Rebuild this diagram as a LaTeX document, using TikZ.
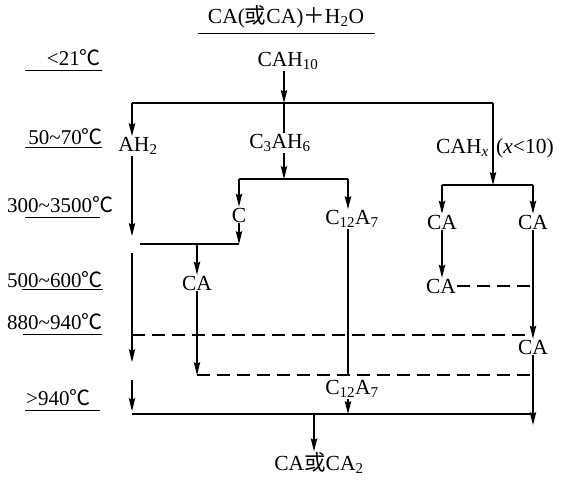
\documentclass[tikz,border=0pt]{standalone}
\usepackage{fontspec}
\setmainfont{Liberation Serif}
\newfontfamily\cjk{Noto Sans CJK SC}
\usetikzlibrary{arrows.meta}
\newcommand{\degC}{{\cjk ℃}}
\newcommand{\wave}{\textasciitilde}
\tikzset{
  lbl/.style={inner sep=1pt, font=\fontsize{21.5}{25}\selectfont},
  temp/.style={inner sep=0pt, font=\fontsize{21}{25}\selectfont},
  rule/.style={line width=0.9pt},
  flow/.style={line width=1.1pt},
  dashln/.style={line width=1.1pt, dash pattern=on 13pt off 7pt},
  >={Stealth[length=13pt,width=6.5pt,inset=2pt]},
}

\begin{document}
\begin{tikzpicture}[x=1pt, y=-1pt]
    \useasboundingbox (0,0) rectangle (561,480);
    % temperature scale
    \node[temp, anchor=east] (t21) at (101,58) {<21\degC};
    \node[temp, anchor=east] (t50) at (103,137) {50\wave70\degC};
    \node[temp, anchor=west] (t300) at (7,205) {300\wave3500\degC};
    \node[temp, anchor=west] (t500) at (7,280) {500\wave600\degC};
    \node[temp, anchor=west] (t880) at (7,322) {880\wave940\degC};
    \node[temp, anchor=west] (t940) at (26,398) {>940\degC};
    \draw[rule] (25,70) -- (102,70);
    \draw[rule] (25,147) -- (102,147);
    \draw[rule] (25,217) -- (100,217);
    \draw[rule] (22,289) -- (103,289);
    \draw[rule] (23,334) -- (102,334);
    \draw[rule] (25,410) -- (100,410);
    \node[lbl] (src) at (286,17) {CA({\cjk 或}CA){\cjk ＋}H\textsubscript{2}O};
    \draw[rule] (198,33) -- (375,33);
    % phases
    \node[lbl] (cah10) at (288,61) {CAH\textsubscript{10}};
    \node[lbl] (ah2) at (138,146) {AH\textsubscript{2}};
    \node[lbl] (c3ah6) at (280,143) {C\textsubscript{3}AH\textsubscript{6}};
    \node[lbl, anchor=east] (cahx) at (490,148) {CAH\textsubscript{\textit{x}}};
    \node[lbl, anchor=west] (xcond) at (495,148) {(\textit{x}<10)};
    \node[lbl] (cc) at (239,215) {C};
    \node[lbl] (c12a) at (352,219) {C\textsubscript{12}A\textsubscript{7}};
    \node[lbl] (caA) at (197,283) {CA};
    \node[lbl] (caB) at (442,222) {CA};
    \node[lbl] (caC) at (533,222) {CA};
    \node[lbl] (caD) at (441,286) {CA};
    \node[lbl] (caE) at (533,347) {CA};
    \node[lbl] (c12b) at (352,389) {C\textsubscript{12}A\textsubscript{7}};
    \node[lbl] (prod) at (319,463) {CA{\cjk 或}CA\textsubscript{2}};
    % junctions
    \coordinate (jL) at (132,103);
    \coordinate (jM) at (284,103);
    \coordinate (jR) at (493,103);
    \coordinate (gL) at (132,236);
    \coordinate (hL) at (132,253);
    \coordinate (kL) at (132,362);
    \coordinate (mL) at (132,380);
    \coordinate (mT) at (132,411);
    \coordinate (bL) at (132,414);
    \coordinate (bR) at (533,414);
    \coordinate (bM) at (314,414);
    \coordinate (sL) at (239,179);
    \coordinate (sM) at (284,179);
    \coordinate (sR) at (348,179);
    \coordinate (uL) at (140,244);
    \coordinate (uR) at (239,244);
    \coordinate (uM) at (197,244);
    \coordinate (rL) at (442,185);
    \coordinate (rR) at (533,185);
    \coordinate (rM) at (493,185);
    \coordinate (d1L) at (132,335);
    \coordinate (d1R) at (528,335);
    \coordinate (d2L) at (197,375);
    \coordinate (d2R) at (533,375);
    \coordinate (eR) at (533,425);
    % connectors
    \draw[flow, ->] (cah10.south -| jM) -- (jM);
    \draw[flow] (jL) -- (jR);
    \draw[flow, ->] (jL) -- (ah2.north -| jL);
    \draw[flow] (jM) -- (c3ah6.north -| jM);
    \draw[flow, ->] (jR) -- (rM);
    \draw[flow, ->] (c3ah6.south -| jM) -- (sM);
    \draw[flow] (sL) -- (sR);
    \draw[flow, ->] (sL) -- (cc.north);
    \draw[flow, ->] (sR) -- (c12a.north -| sR);
    \draw[flow, ->] (ah2.south -| jL) -- (gL);
    \draw[flow, ->] (cc.south) -- (uR);
    \draw[flow] (uR) -- (uL);
    \draw[flow, ->] (uM) -- (caA.north);
    \draw[flow, ->] (hL) -- (kL);
    \draw[flow, ->] (caA.south) -- (d2L);
    \draw[flow] (c12a.south -| sR) -- (d2R -| sR);
    \draw[flow] (rL) -- (rR);
    \draw[flow, ->] (rL) -- (caB.north);
    \draw[flow, ->] (rR) -- (caC.north);
    \draw[flow, ->] (caB.south) -- (caD.north -| caB);
    \draw[dashln] (caD.east) -- (caD.east -| rR);
    \draw[flow, ->] (caC.south) -- (caE.north);
    \draw[dashln] (d1L) -- (d1R);
    \draw[dashln] (d2L) -- (d2R);
    \draw[flow, ->] (caE.south) -- (eR);
    \draw[flow, ->] (mL) -- (mT);
    \draw[flow, ->] (c12b.south -| sR) -- (bL -| sR);
    \draw[flow] (bL) -- (bR);
    \draw[flow, ->] (bM) -- (prod.north -| bM);
  \end{tikzpicture}
\end{document}
